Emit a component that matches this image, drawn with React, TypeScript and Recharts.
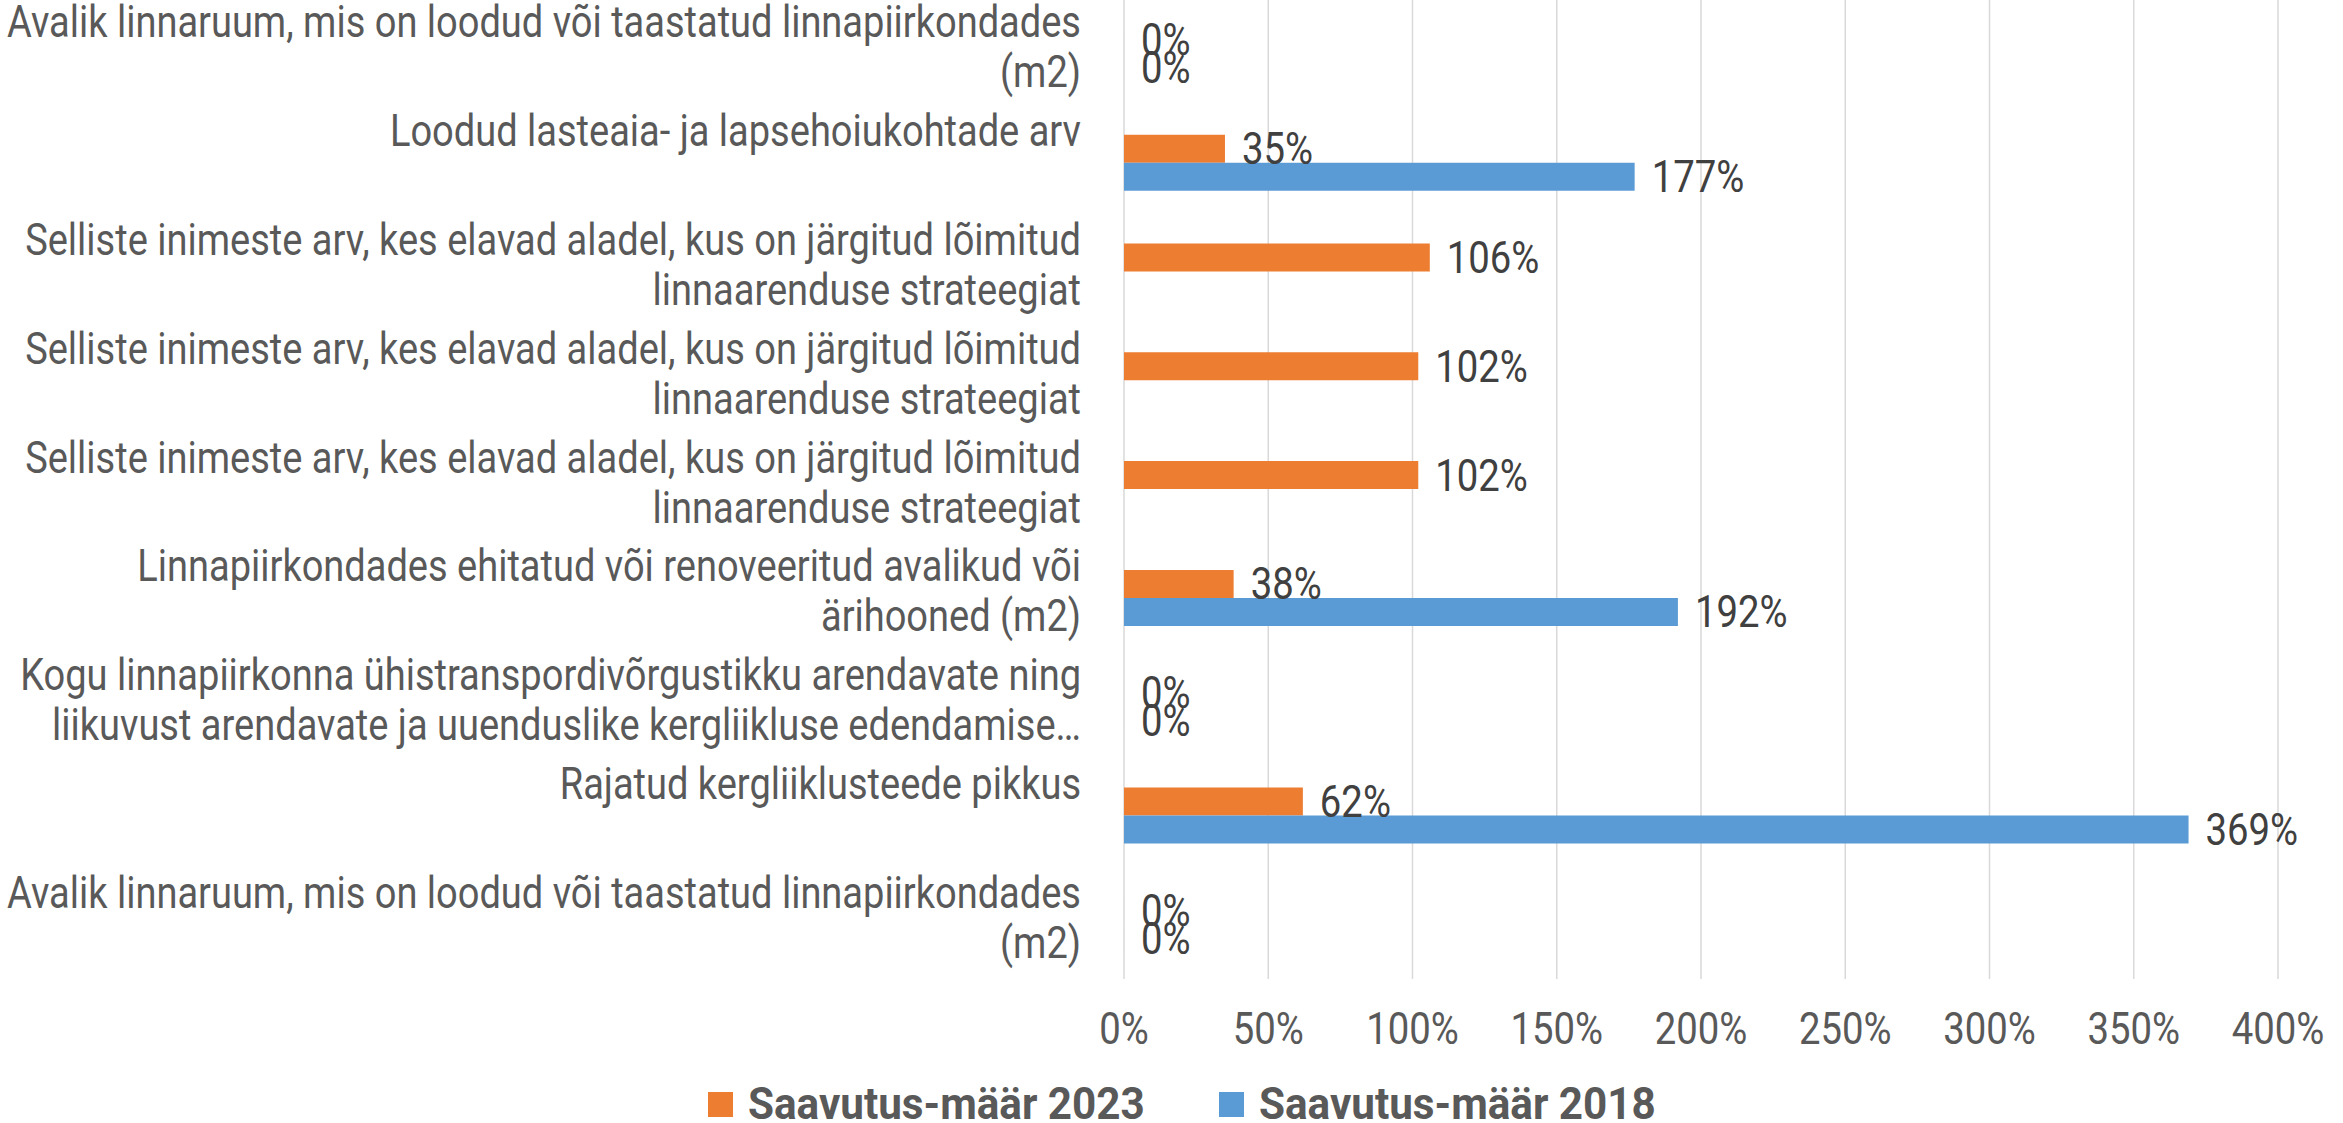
import { BarChart, Bar, XAxis, YAxis, CartesianGrid, LabelList } from "recharts"

// ─── Data ──────────────────────────────────────────────────────────────────────

const CATEGORY_LINES: string[][] = [
    ["Avalik linnaruum, mis on loodud või taastatud linnapiirkondades", "(m2)"],
    ["Loodud lasteaia- ja lapsehoiukohtade arv"],
    ["Selliste inimeste arv, kes elavad aladel, kus on järgitud lõimitud", "linnaarenduse strateegiat"],
    ["Selliste inimeste arv, kes elavad aladel, kus on järgitud lõimitud", "linnaarenduse strateegiat"],
    ["Selliste inimeste arv, kes elavad aladel, kus on järgitud lõimitud", "linnaarenduse strateegiat"],
    ["Linnapiirkondades ehitatud või renoveeritud avalikud või", "ärihooned (m2)"],
    ["Kogu linnapiirkonna ühistranspordivõrgustikku arendavate ning", "liikuvust arendavate ja uuenduslike kergliikluse edendamise…"],
    ["Rajatud kergliiklusteede pikkus"],
    ["Avalik linnaruum, mis on loodud või taastatud linnapiirkondades", "(m2)"],
]

const RATE_2023: (number | null)[] = [0, 0.35, 1.06, 1.02, 1.02, 0.38, 0, 0.62, 0]
const RATE_2018: (number | null)[] = [0, 1.77, null, null, null, 1.92, 0, 3.69, 0]

const X_TICKS = [0, 0.5, 1, 1.5, 2, 2.5, 3, 3.5, 4]

const SERIES = [
    { key: "r2023", name: "Saavutus-määr 2023", color: "#ED7D31" },
    { key: "r2018", name: "Saavutus-määr 2018", color: "#5B9BD5" },
]

const DATA = CATEGORY_LINES.map((_, i) => ({
    key: `c${i}`,
    r2023: RATE_2023[i],
    r2018: RATE_2018[i],
}))

// ─── Styles ────────────────────────────────────────────────────────────────────

const FONT = "Roboto, 'Noto Sans', sans-serif"
const FONT_SIZE = 44
const SQUEEZE = 0.87
const CAT_SQUEEZE = 0.864
const LINE_H = 50
const TEXT_COLOR = "#595959"
const LABEL_COLOR = "#404040"

const pct = (v: number) => `${Math.round(v * 100)}%`

// zero values still get a (hairline) bar so their "0%" label is drawn
const zeroMin = (v: any) => (v === 0 ? 0.01 : 0)

// ─── Ticks & labels ────────────────────────────────────────────────────────────

function CategoryTick({ x, y, payload }: any) {
    const idx = Number(String(payload.value).slice(1))
    const lines = CATEGORY_LINES[idx] ?? []
    return (
        <g transform={`translate(${x - 35},${y})`}>
            <text
                transform={`scale(${CAT_SQUEEZE},1)`}
                textAnchor="end"
                fontFamily={FONT}
                fontSize={FONT_SIZE}
                fill={TEXT_COLOR}
            >
                {lines.map((line, i) => (
                    <tspan key={i} x={0} y={-17 + i * LINE_H}>
                        {line}
                    </tspan>
                ))}
            </text>
        </g>
    )
}

function ValueTick({ x, y, payload }: any) {
    return (
        <g transform={`translate(${x},${y + 42})`}>
            <text
                transform={`scale(${SQUEEZE},1)`}
                textAnchor="middle"
                dy="0.35em"
                fontFamily={FONT}
                fontSize={FONT_SIZE}
                fill={TEXT_COLOR}
            >
                {pct(payload.value)}
            </text>
        </g>
    )
}

function BarLabel({ x, y, width, height, value }: any) {
    if (value == null) return null
    return (
        <g transform={`translate(${x + width + 17},${y + height / 2})`}>
            <text
                transform={`scale(${SQUEEZE},1)`}
                dy="0.35em"
                fontFamily={FONT}
                fontSize={FONT_SIZE}
                fill={LABEL_COLOR}
            >
                {pct(value)}
            </text>
        </g>
    )
}

// ─── Legend ────────────────────────────────────────────────────────────────────

const LEGEND_X = [708, 1219]

function ChartLegend() {
    return (
        <svg width={2343} height={48} style={{ display: "block" }}>
            {SERIES.map((s, i) => (
                <g key={s.key} transform={`translate(${LEGEND_X[i]},0)`}>
                    <rect x={0} y={17} width={25} height={25} fill={s.color} />
                    <g transform={`translate(40,29)`}>
                        <text
                            transform={`scale(0.96,1)`}
                            dy="0.35em"
                            fontFamily={FONT}
                            fontWeight="bold"
                            fontSize={FONT_SIZE}
                            fill={TEXT_COLOR}
                        >
                            {s.name}
                        </text>
                    </g>
                </g>
            ))}
        </svg>
    )
}

// ─── Component ─────────────────────────────────────────────────────────────────

export default function App() {
    return (
        <div style={{ position: "absolute", left: 0, top: 0, width: 2343, height: 1123, background: "#fff" }}>
            <BarChart
                width={2343}
                height={1075}
                data={DATA}
                layout="vertical"
                margin={{ top: 0, right: 65, bottom: 0, left: 0 }}
                barGap={0}
                barSize={28}
            >
                <CartesianGrid horizontal={false} stroke="#d9d9d9" strokeWidth={1.5} />
                <XAxis
                    type="number"
                    domain={[0, 4]}
                    ticks={X_TICKS}
                    axisLine={false}
                    tickLine={false}
                    height={96}
                    tick={ValueTick}
                    interval={0}
                />
                <YAxis
                    type="category"
                    dataKey="key"
                    width={1124}
                    axisLine={false}
                    tickLine={false}
                    tick={CategoryTick}
                    interval={0}
                />
                {SERIES.map((s) => (
                    <Bar
                        key={s.key}
                        dataKey={s.key}
                        name={s.name}
                        fill={s.color}
                        minPointSize={zeroMin}
                        isAnimationActive={false}
                    >
                        <LabelList dataKey={s.key} content={BarLabel} />
                    </Bar>
                ))}
            </BarChart>
            <ChartLegend />
        </div>
    )
}
